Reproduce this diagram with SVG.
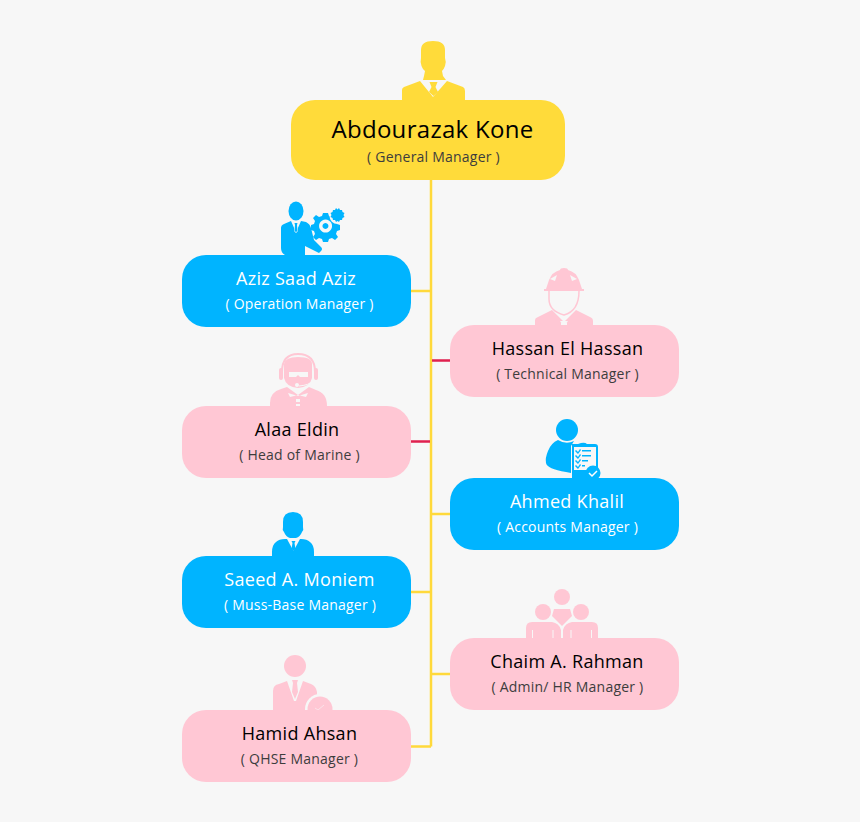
<svg xmlns="http://www.w3.org/2000/svg" width="860" height="822" viewBox="0 0 860 822">
<style>
text{font-family:"Open Sans","Noto Sans",sans-serif;text-anchor:middle}
.n{font-size:18px;font-weight:500;letter-spacing:.3px}
.s{font-size:14px;letter-spacing:.22px}
.y{fill:#ffdb3a}.b{fill:#00b4ff}.p{fill:#ffc7d4}
.w{fill:#fff}.d{fill:#000}.ds{fill:#3d3d3d}
.bg{fill:#f7f7f7}
.ln{stroke:#ffd93b;stroke-width:2.5;fill:none}
.rd{stroke:#e0214f;stroke-width:2.5;fill:none}
</style>
<rect width="860" height="822" class="bg"/>
<g id="connectors">
<path class="ln" d="M431 180V746.500M411 291H431M432 514H450M411 592H431M432 674H450M411 746.500H431"/>
<path class="rd" d="M432 360.500H450M411 441.500H430"/>
</g>
<g id="n-kone">
<path class="y" d="M402 100V90Q402 88 404 87L420 81L433 97L447 81L463 87Q465 88 465 91V100Z"/>
<path class="y" d="M421 50Q421 41 433 41Q445 41 445 50V58Q446.500 62 445 66Q443.500 70 442 71L443 76L446 80H423L424 76L425 71Q423 70 421.500 66Q420 62 421 58Z"/>
<path class="y" d="M429.500 82H437.500L435.500 87L438 92L433.500 96L429 92L431.500 87Z"/>
<rect class="y" x="291" y="100" width="274" height="80" rx="24"/>
<text class="n d" x="432.500" y="138" style="font-size:24px">Abdourazak Kone</text>
<text class="s ds" x="433.500" y="162">( General Manager )</text>
</g>
<g id="n-aziz">
<ellipse class="b" cx="296" cy="211" rx="7.500" ry="9.500"/>
<path class="b" d="M281 228Q281 225 284 224L291 221L295 230H297L301 221L306 222Q310 224 311 228L314 240L321 247Q323 249 321 251L319 253L305 246V255H285Q281 253 281 248Z"/>
<path class="bg" d="M294 222H298L297.500 224L298 231L296 233L294 231L294.500 224Z"/>
<path class="b" d="M294.500 223H297.500L297 225L297.500 231L296 232L294.500 231L295 225Z"/>
<path class="b" fill-rule="evenodd" d="M323 213h5l1 3 3 1 3-2 3 3-2 3 1 3 3 1v5l-3 1-1 3 2 3-3 3-3-2-3 1-1 3h-5l-1-3-3-1-3 2-3-3 2-3-1-3-3-1v-5l3-1 1-3-2-3 3-3 3 2 3-1zM325.500 219.500a6.500 6.500 0 1 0 .1 0zM325.500 223a3 3 0 1 1-.1 0z"/>
<circle class="bg" cx="337.500" cy="216" r="8"/>
<path class="b" d="M336 208l1.500 1.500 1.500-1.500 1 2h2l.5 2 2 1-1 2 1 2-2 1-.5 2h-2l-1 2-1.500-1-1.500 1-1-2h-2l-.5-2-2-1 1-2-1-2 2-1 .5-2h2z"/>
<rect class="b" x="182" y="255" width="229" height="72" rx="24"/>
<text class="n w" x="296" y="285">Aziz Saad Aziz</text>
<text class="s w" x="299.500" y="309">( Operation Manager )</text>
</g>
<g id="n-hassan">
<path class="p" d="M560 270Q560 268 564 268Q568 268 568 270Q576 272 579 280L582 289H584V291H544V289H546L549 280Q552 272 560 270Z"/>
<path class="bg" d="M550 279L557 275L555 281ZM570 275L577 279L572 281Z"/>
<path fill="none" stroke="#ffc7d4" stroke-width="1.500" d="M549 291V299Q549 311 564 315Q579 311 579 291"/>
<path class="p" d="M535 325V320Q535 318 538 317L552 310L558 316L564 322L570 316L576 310L590 317Q593 318 593 321V325Z"/>
<path class="bg" d="M560 321H568L566 324H562ZM561 323H567V325H561Z"/>
<rect class="p" x="450" y="325" width="229" height="72" rx="24"/>
<text class="n d" x="567.500" y="355">Hassan El Hassan</text>
<text class="s ds" x="567.500" y="379">( Technical Manager )</text>
</g>
<g id="n-alaa">
<path fill="none" stroke="#ffc7d4" stroke-width="2" d="M282 372Q282 354 298 354Q315 354 315 372"/>
<path class="p" d="M284 364Q285 357 298 357Q312 357 312 364V378Q310 387 298 388Q286 387 284 378Z"/>
<rect class="p" x="279" y="368" width="4" height="12" rx="2"/>
<rect class="p" x="314" y="368" width="4" height="12" rx="2"/>
<path class="bg" d="M289 372H308V377H300L298 375L296 377H289Z"/>
<path fill="none" stroke="#f7f7f7" stroke-width="1" d="M312 381Q310 385 299 386"/>
<circle class="bg" cx="297" cy="385" r="2"/>
<path class="p" d="M270 406V403Q270 392 281 389L287 387L298 395L309 387L316 390Q327 393 327 406Z"/>
<path class="bg" d="M288 393L298 396L308 393L306 397L298 395L290 397ZM296 399h4v3h-4zM296 404h4v2h-4z"/>
<rect class="p" x="182" y="406" width="229" height="72" rx="24"/>
<text class="n d" x="297" y="436">Alaa Eldin</text>
<text class="s ds" x="299.500" y="460">( Head of Marine )</text>
</g>
<g id="n-ahmed">
<circle class="b" cx="567" cy="430" r="11"/>
<path class="b" d="M558 440Q566 445 574 441L571 446V473L566 472Q547 469 546 463Q545 458 548 451Q551 443 558 440Z"/>
<path class="b" d="M572 444H578L581 443Q585 442 587 444H595Q598 444 598 447V470H572Z"/>
<rect x="574" y="447" width="22" height="23" class="bg"/>
<path class="b" d="M576 450l2 2 2-3 1 1-3 4-3-3zM582 450h9v1.500h-9zM576 455l2 2 2-3 1 1-3 4-3-3zM582 455h9v1.500h-9zM576 460l2 2 2-3 1 1-3 4-3-3zM582 460h6v1.500h-6zM576 465l2 2 2-3 1 1-3 4-3-3zM582 465h3v1.500h-3z"/>
<rect class="b" x="572" y="470" width="26" height="8"/>
<circle class="b" cx="593" cy="473" r="7.500"/>
<path fill="none" stroke="#fff" stroke-width="1.500" d="M589 473l3 3 5-5"/>
<rect class="b" x="450" y="478" width="229" height="72" rx="24"/>
<text class="n w" x="567" y="508">Ahmed Khalil</text>
<text class="s w" x="567.500" y="532">( Accounts Manager )</text>
</g>
<g id="n-saeed">
<path class="b" d="M283 522Q283 512 293 512Q303 512 303 522V527Q304 530 302 532Q300 537 296 538H290Q286 537 284 532Q282 530 283 527Z"/>
<path class="b" d="M272 556V552Q272 545 276 542Q279 539 285 539H301Q307 539 310 542Q314 545 314 552V556Z"/>
<path class="bg" d="M287 539H300L293.500 551Z"/>
<path class="b" d="M291.500 541H295.500L294.500 543L295.500 549L293.500 551L291.500 549L292.500 543Z"/>
<rect class="b" x="182" y="556" width="229" height="72" rx="24"/>
<text class="n w" x="299.500" y="586">Saeed A. Moniem</text>
<text class="s w" x="300" y="610">( Muss-Base Manager )</text>
</g>
<g id="n-chaim">
<circle class="p" cx="562" cy="597" r="8"/>
<circle class="p" cx="543" cy="612" r="8"/>
<circle class="p" cx="581" cy="612" r="8"/>
<path class="p" d="M554 609H570L572 616Q568 620 566 622L562 626L558 622Q556 620 552 616Z"/>
<path class="p" d="M526 638V628Q526 622 532 622H552Q559 623 561 630V638Z"/>
<path class="p" d="M563 638V630Q565 623 572 622H592Q598 622 598 628V638Z"/>
<path fill="none" stroke="#f7f7f7" stroke-width="1" d="M532.500 630V638M553 630V638M571 630V638M591.500 630V638"/>
<rect class="p" x="450" y="638" width="229" height="72" rx="24"/>
<text class="n d" x="567" y="668">Chaim A. Rahman</text>
<text class="s ds" x="567.500" y="692">( Admin/ HR Manager )</text>
</g>
<g id="n-hamid">
<circle class="p" cx="295" cy="666" r="11"/>
<path class="p" d="M273 710V691Q273 685 279 684L287 681L294 701L296 701L303 681L311 684Q316 686 317 692V700H308V710Z"/>
<path class="p" d="M292 680H298L297 683L298 692L295 699L292 692L293 683Z"/>
<circle class="bg" cx="320" cy="709" r="15"/>
<circle class="p" cx="320" cy="709" r="12.500"/>
<path fill="none" stroke="#fbe3e9" stroke-width="1" d="M315 708l3 2 6-5"/>
<rect class="p" x="182" y="710" width="229" height="72" rx="24"/>
<text class="n d" x="299.500" y="740">Hamid Ahsan</text>
<text class="s ds" x="299.500" y="764">( QHSE Manager )</text>
</g>
</svg>
